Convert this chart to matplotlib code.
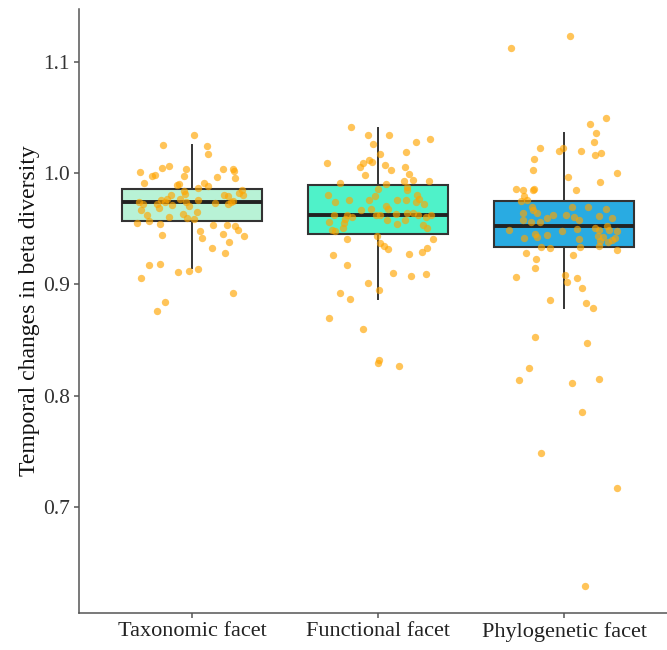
import matplotlib
matplotlib.use("Agg")
from matplotlib import pyplot as plt

plt.rcParams["font.family"] = ["Liberation Serif", "DejaVu Serif"]

facets = ["Taxonomic facet", "Functional facet", "Phylogenetic facet"]
box_colors = ["#b8f2d6", "#4ff2c9", "#29abe2"]

# box statistics
q1 = [0.9564, 0.9455, 0.9333]
med = [0.9736, 0.9625, 0.9524]
q3 = [0.9859, 0.9889, 0.9751]
whis_lo = [0.9149, 0.8864, 0.8784]
whis_hi = [1.0254, 1.0404, 1.0362]

# jittered points: values and horizontal jitter (category units)
tax_vals = [1.0338, 1.0254, 1.0239, 1.0171, 1.0012, 1.0048, 1.0063, 1.0032, 0.9969, 0.9985,
            0.9913, 0.9969, 1.0032, 1.0032, 1.0018, 0.9964, 0.9951, 0.9892, 0.9904, 0.9910,
            0.9883, 0.9862, 0.9838, 0.9811, 0.9805, 0.9850, 0.9820, 0.9799, 0.9799, 0.9790,
            0.9760, 0.9766, 0.9766, 0.9760, 0.9742, 0.9724, 0.9724, 0.9736, 0.9715, 0.9742,
            0.9700, 0.9730, 0.9724, 0.9736, 0.9745, 0.9664, 0.9625, 0.9686, 0.9632, 0.9650,
            0.9605, 0.9596, 0.9587, 0.9569, 0.9551, 0.9542, 0.9536, 0.9536, 0.9527, 0.9475,
            0.9491, 0.9443, 0.9412, 0.9452, 0.9430, 0.9376, 0.9323, 0.9278, 0.9170, 0.9182,
            0.9107, 0.9122, 0.9134, 0.9053, 0.8922, 0.8837, 0.8763]
tax_jit = [0.011, -0.154, 0.082, 0.088, -0.280, -0.161, -0.125, -0.031, -0.215, -0.197,
           -0.260, -0.043, 0.165, 0.219, 0.227, 0.133, 0.233, -0.082, -0.068, 0.066,
           0.088, 0.034, -0.043, -0.039, -0.115, 0.267, 0.254, 0.276, 0.172, 0.192,
           -0.168, -0.136, -0.065, 0.034, -0.285, -0.262, -0.187, -0.145, -0.109, -0.032,
           -0.015, 0.124, 0.195, 0.210, 0.222, -0.273, -0.244, -0.179, -0.050, 0.028,
           -0.125, -0.025, 0.011, -0.230, -0.294, -0.172, 0.115, 0.187, 0.231, 0.043,
           0.246, -0.160, 0.052, 0.165, 0.281, 0.201, 0.106, 0.179, -0.233, -0.172,
           -0.075, -0.016, 0.034, -0.274, 0.219, -0.144, -0.188]

fun_vals = [1.0410, 1.0341, 1.0338, 1.0261, 1.0281, 1.0302, 1.0189, 1.0171, 1.0090, 1.0120,
            1.0102, 1.0090, 1.0050, 1.0072, 1.0030, 1.0054, 0.9982, 0.9991, 0.9931, 0.9934,
            0.9925, 0.9910, 0.9898, 0.9859, 0.9874, 0.9844, 0.9802, 0.9790, 0.9805, 0.9742,
            0.9754, 0.9760, 0.9754, 0.9760, 0.9769, 0.9736, 0.9724, 0.9706, 0.9677, 0.9670,
            0.9677, 0.9619, 0.9619, 0.9605, 0.9623, 0.9623, 0.9632, 0.9643, 0.9641, 0.9625,
            0.9605, 0.9619, 0.9587, 0.9556, 0.9551, 0.9578, 0.9578, 0.9542, 0.9506, 0.9491,
            0.9479, 0.9529, 0.9506, 0.9434, 0.9407, 0.9407, 0.9371, 0.9341, 0.9317, 0.9326,
            0.9290, 0.9269, 0.9260, 0.9170, 0.9104, 0.9075, 0.9095, 0.9008, 0.8945, 0.8922,
            0.8864, 0.8700, 0.8601, 0.8323, 0.8293, 0.8269]
fun_jit = [-0.147, -0.052, 0.059, -0.027, 0.203, 0.281, 0.152, 0.011, -0.274, -0.048,
           -0.032, -0.079, -0.097, 0.038, 0.068, 0.145, -0.072, 0.167, 0.141, 0.187,
           0.276, -0.204, 0.043, -0.002, 0.154, 0.158, -0.270, -0.016, 0.208, -0.230,
           -0.158, -0.047, 0.104, 0.149, 0.219, 0.204, 0.247, 0.043, 0.055, -0.093,
           -0.038, -0.237, -0.168, -0.140, -0.011, 0.011, 0.097, 0.158, 0.187, 0.213,
           0.256, 0.285, -0.176, -0.262, -0.181, 0.048, 0.147, 0.102, -0.190, -0.249,
           -0.233, 0.244, 0.262, -0.004, -0.165, 0.294, 0.011, 0.031, 0.055, 0.262,
           0.237, 0.167, -0.244, -0.167, 0.079, 0.179, 0.258, -0.052, 0.004, -0.206,
           -0.152, -0.262, -0.079, 0.005, -0.002, 0.113]

phy_vals = [1.1119, 1.1231, 1.0491, 1.0443, 1.0362, 1.0275, 1.0227, 1.0194, 1.0227, 1.0200,
            1.0158, 1.0182, 1.0122, 1.0023, 0.9996, 0.9967, 0.9919, 0.9850, 0.9853, 0.9847,
            0.9844, 0.9856, 0.9790, 0.9760, 0.9745, 0.9695, 0.9664, 0.9641, 0.9695, 0.9695,
            0.9679, 0.9637, 0.9596, 0.9623, 0.9623, 0.9607, 0.9580, 0.9610, 0.9592, 0.9580,
            0.9562, 0.9562, 0.9491, 0.9482, 0.9497, 0.9506, 0.9491, 0.9520, 0.9491, 0.9479,
            0.9452, 0.9446, 0.9416, 0.9421, 0.9410, 0.9437, 0.9425, 0.9416, 0.9385, 0.9376,
            0.9394, 0.9338, 0.9329, 0.9338, 0.9344, 0.9311, 0.9281, 0.9260, 0.9227, 0.9143,
            0.9062, 0.9086, 0.9053, 0.9017, 0.8963, 0.8855, 0.8835, 0.8784, 0.8523, 0.8469,
            0.8248, 0.8143, 0.8113, 0.8149, 0.7858, 0.7487, 0.7175, 0.6292]
phy_jit = [-0.287, 0.034, 0.227, 0.138, 0.172, 0.161, -0.129, -0.028, -0.005, 0.093,
           0.167, 0.199, -0.160, -0.167, 0.285, 0.020, 0.195, 0.065, -0.258, -0.222,
           -0.168, -0.163, -0.213, -0.199, -0.230, -0.172, -0.165, -0.147, 0.041, 0.129,
           0.224, -0.219, -0.090, -0.058, 0.009, 0.054, 0.081, 0.190, 0.258, -0.222,
           -0.176, -0.127, -0.294, -0.009, 0.072, 0.167, 0.187, 0.230, 0.242, 0.283,
           -0.156, -0.090, -0.215, -0.144, 0.082, 0.181, 0.208, 0.276, 0.195, 0.237,
           0.258, -0.125, -0.077, 0.084, 0.190, 0.283, -0.203, 0.048, -0.151, -0.156,
           -0.258, 0.005, 0.068, 0.015, 0.097, -0.077, 0.120, 0.158, -0.158, 0.125,
           -0.188, -0.242, 0.041, 0.187, 0.097, -0.122, 0.283, 0.115]

point_vals = [tax_vals, fun_vals, phy_vals]
point_jit = [tax_jit, fun_jit, phy_jit]

fig = plt.figure(figsize=(6.67, 6.5), dpi=100)
ax = fig.add_axes([0.1184, 0.0569, 0.8966, 0.9298])

stats = []
for i in range(3):
    stats.append({"q1": q1[i], "med": med[i], "q3": q3[i],
                  "whislo": whis_lo[i], "whishi": whis_hi[i], "fliers": []})

bp = ax.bxp(stats, positions=[0, 1, 2], widths=0.75, patch_artist=True,
            showfliers=False, showcaps=False,
            boxprops=dict(edgecolor="#333333", linewidth=1.5),
            whiskerprops=dict(color="#333333", linewidth=1.4),
            medianprops=dict(color="#222222", linewidth=2.8))
for patch, c in zip(bp["boxes"], box_colors):
    patch.set_facecolor(c)

# jittered raw points on top
for i in range(3):
    xs = [i + j for j in point_jit[i]]
    ax.scatter(xs, point_vals[i], s=28, color="orange", alpha=0.65,
               linewidths=0, zorder=5)

ax.set_xlim(-0.6075, 2.6075)
ax.set_ylim(0.6049, 1.1475)
ax.set_xticks([0, 1, 2])
ax.set_xticklabels(facets, fontsize=16, color="#222222")
ax.set_yticks([0.7, 0.8, 0.9, 1.0, 1.1])
ax.set_yticklabels(["0.7", "0.8", "0.9", "1.0", "1.1"], fontsize=15.5, color="#333333")
ax.set_ylabel("Temporal changes in beta diversity", fontsize=17, color="#111111",
              labelpad=2)

for side in ["top", "right"]:
    ax.spines[side].set_visible(False)
for side in ["left", "bottom"]:
    ax.spines[side].set_color("#555555")
    ax.spines[side].set_linewidth(1.1)
ax.tick_params(length=3.5, width=1.1, color="#555555", pad=3)

fig.savefig("out.png", dpi=100)
